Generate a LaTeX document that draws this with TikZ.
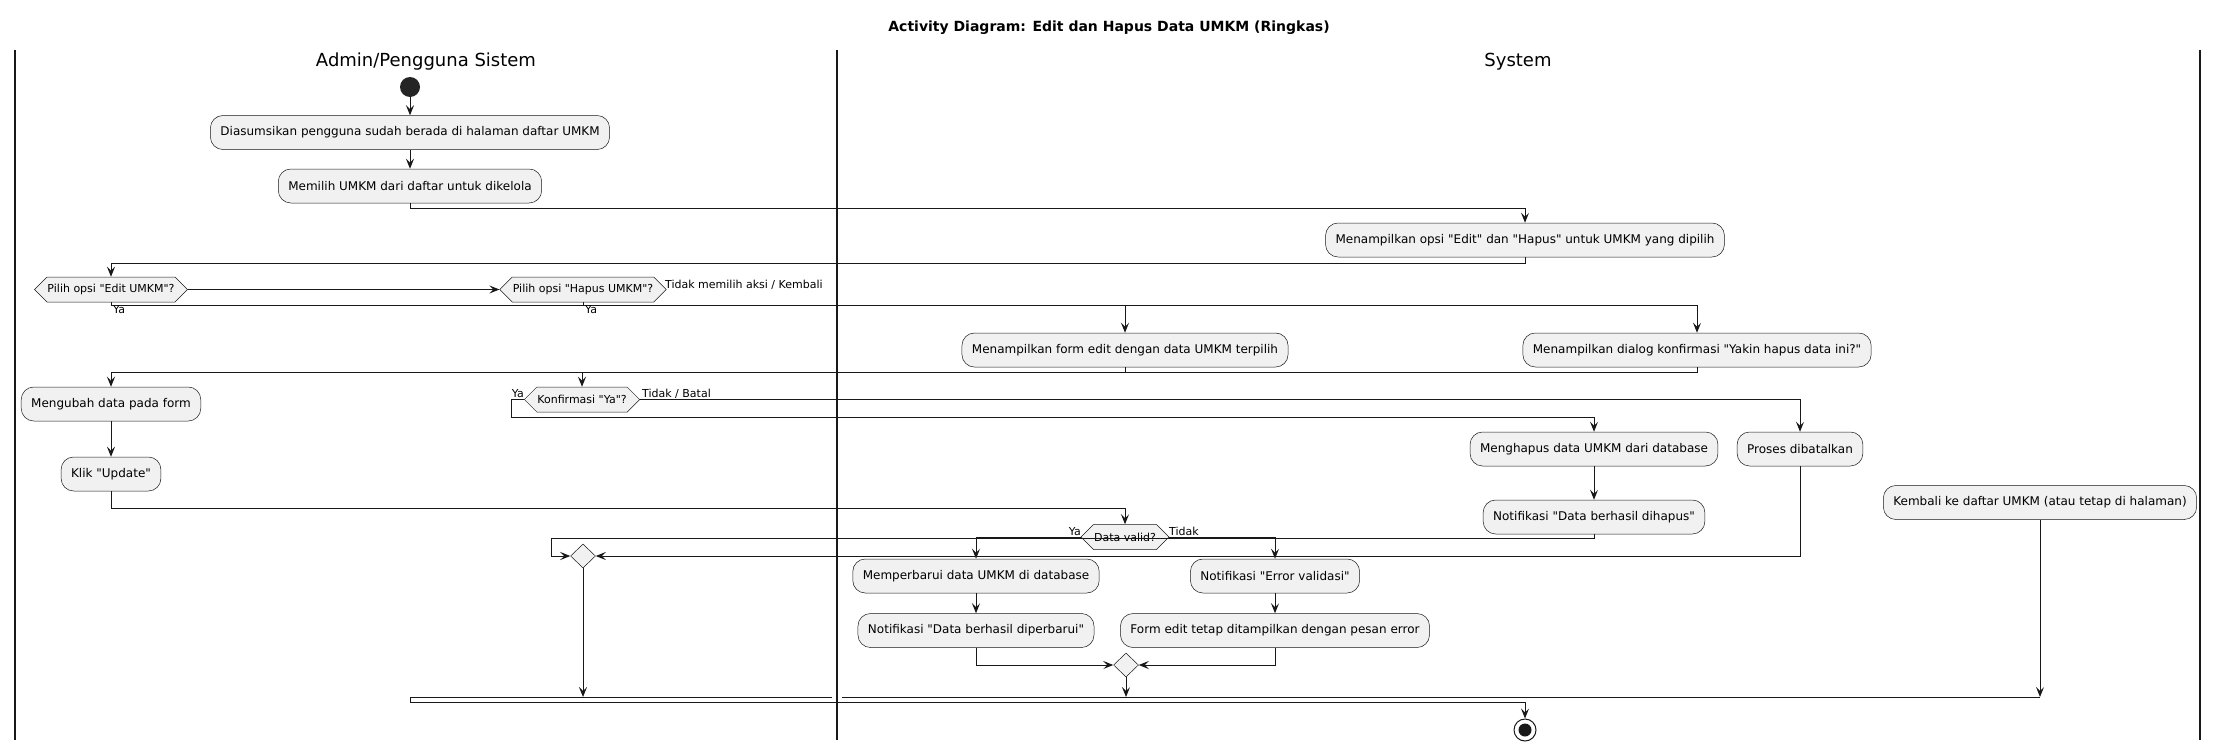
\documentclass[tikz,border=0pt]{standalone}
\usepackage{fontspec}
\setmainfont{DejaVu Sans}
\usetikzlibrary{shapes.geometric,shapes.symbols,arrows.meta,calc}
\definecolor{ln}{HTML}{181818}
\definecolor{bx}{HTML}{F1F1F1}
\newcommand\myq{\textquotedbl}
\begin{document}
\begin{tikzpicture}[x=1pt,y=-1pt,
 act/.style={draw=ln, line width=0.5pt, fill=bx, rounded corners=12.5pt, minimum height=34pt, inner xsep=10pt, inner ysep=0pt, font=\fontsize{12pt}{14pt}\selectfont},
 dec/.style={signal, signal to=east and west, signal pointer angle=90, draw=ln, line width=0.5pt, fill=bx, minimum height=25pt, inner xsep=0.5pt, inner ysep=0pt, font=\fontsize{11pt}{13pt}\selectfont},
 mrg/.style={diamond, draw=ln, line width=0.5pt, fill=bx, minimum width=25pt, minimum height=24pt, inner sep=0pt},
 arr/.style={draw=ln, line width=1pt, -{Stealth[length=10pt,width=8pt,inset=4pt]}},
 con/.style={draw=ln, line width=1pt},
 lbl/.style={font=\fontsize{11pt}{13pt}\selectfont, inner sep=0pt},
 lane/.style={draw=ln, line width=1.5pt},
 hdr/.style={font=\fontsize{18pt}{21pt}\selectfont},
]
\fill[white] (0,0) rectangle (2219,750);
\useasboundingbox (0,0) rectangle (2219,750);

% title and lanes
\node[font=\bfseries\fontsize{14pt}{16pt}\selectfont] (ttl) at (1109,28) {Activity Diagram: Edit dan Hapus Data UMKM (Ringkas)};
\draw[lane] (15,50) -- (15,740);
\draw[lane] (837,50) -- (837,740);
\draw[lane] (2200,50) -- (2200,740);
\node[hdr] (h1) at (426,62) {Admin/Pengguna Sistem};
\node[hdr] (h2) at (1518,62) {System};

% nodes
\node[circle, fill=ln!95!white, minimum size=20pt, inner sep=0pt] (st) at (410,87) {};
\node[act] (a1) at (410,132.5) {Diasumsikan pengguna sudah berada di halaman daftar UMKM};
\node[act] (a2) at (410,186) {Memilih UMKM dari daftar untuk dikelola};
\node[act] (s1) at (1525,240) {Menampilkan opsi \myq Edit\myq\ dan \myq Hapus\myq\ untuk UMKM yang dipilih};
\node[dec] (d1) at (111,289.5) {Pilih opsi \myq Edit UMKM\myq ?};
\node[dec] (d2) at (583,289.5) {Pilih opsi \myq Hapus UMKM\myq ?};
\node[act] (s2) at (1125,350) {Menampilkan form edit dengan data UMKM terpilih};
\node[act] (s3) at (1697,350) {Menampilkan dialog konfirmasi \myq Yakin hapus data ini?\myq};
\node[act] (a3) at (111,404) {Mengubah data pada form};
\node[dec] (d3) at (582,399.5) {Konfirmasi \myq Ya\myq ?};
\node[act] (a4) at (111,474) {Klik \myq Update\myq};
\node[act] (s4) at (1594,449) {Menghapus data UMKM dari database};
\node[act] (s5) at (1800,449) {Proses dibatalkan};
\node[act] (s6) at (1594,517) {Notifikasi \myq Data berhasil dihapus\myq};
\node[act] (s7) at (2040,502.5) {Kembali ke daftar UMKM (atau tetap di halaman)};
\node[dec] (d4) at (1125,537) {Data valid?};
\node[mrg] (m1) at (583,556) {};
\node[act] (s8) at (976,576) {Memperbarui data UMKM di database};
\node[act] (s9) at (1275,576) {Notifikasi \myq Error validasi\myq};
\node[act] (s10) at (976,630.5) {Notifikasi \myq Data berhasil diperbarui\myq};
\node[act] (s11) at (1275,630.5) {Form edit tetap ditampilkan dengan pesan error};
\node[mrg] (m2) at (1126,665) {};
\node[circle, draw=ln, fill=white, line width=1pt, minimum size=22pt, inner sep=0pt] (en) at (1525,730) {};
\fill[ln] (en.center) circle[radius=6.5pt];

\coordinate (j1) at (583,697);
\coordinate (j2) at (1126,697);
\coordinate (j3) at (2040,697);
\coordinate (b1) at (410,697);
\coordinate (b2) at (410,702);
\coordinate (b3) at (1525,702);

% connectors
\draw[arr] (st) -- (a1);
\draw[arr] (a1) -- (a2);
\draw[arr] (a2.south) -- ++(0,5) -| (s1.north);
\draw[arr] (s1.south) -- ++(0,6) -| (d1.north);
\draw[arr] (d1.east) -- (d2.west);
\draw[arr] (d1.south) -- ++(0,3.5) -| (s2.north);
\draw[arr] (d2.south) -- ++(0,3.5) -| (s3.north);
\draw[arr] (s2.south) -- ++(0,5) -| (a3.north);
\draw[arr] (s3.south) -- ++(0,5) -| (d3.north);
\draw[arr] (a3) -- (a4);
\draw[arr] (a4.south) -- ++(0,17) -| (d4.north);
\draw[arr] (d3.west) -- ++(-13,0) -- ++(0,18) -| (s4.north);
\draw[arr] (d3.east) -| (s5.north);
\draw[arr] (s4) -- (s6);
\draw[arr] (s6.south) -- ++(0,4) -| ($(m1.west)+(-19,0)$) -- (m1.west);
\draw[arr] (s5.south) |- (m1.east);
\draw[arr] (m1.south) -- (j1);
\draw[arr] (d4.west) -| (s8.north);
\draw[arr] (d4.east) -| (s9.north);
\draw[arr] (s8) -- (s10);
\draw[arr] (s9) -- (s11);
\draw[arr] (s10.south) |- (m2.west);
\draw[arr] (s11.south) |- (m2.east);
\draw[arr] (m2.south) -- (j2);
\draw[arr] (s7.south) -- (j3);
\draw[con] (b1) -- (832,697);
\draw[con] (842,697) -- (j3);
\draw[con] (b1) -- (b2) -- (b3);
\draw[arr] (b3) -- (en.north);

% labels
\node[lbl, anchor=base west] (l1) at (113,313.5) {Ya};
\node[lbl, anchor=base west] (l2) at (585,313.5) {Ya};
\node[lbl, anchor=base west] (l3) at (665,288) {Tidak memilih aksi / Kembali};
\node[lbl, anchor=base east] (l4) at (524,397) {Ya};
\node[lbl, anchor=base west] (l5) at (642,397) {Tidak / Batal};
\node[lbl, anchor=base east] (l6) at (1081,535) {Ya};
\node[lbl, anchor=base west] (l7) at (1169,535) {Tidak};
\end{tikzpicture}
\end{document}
